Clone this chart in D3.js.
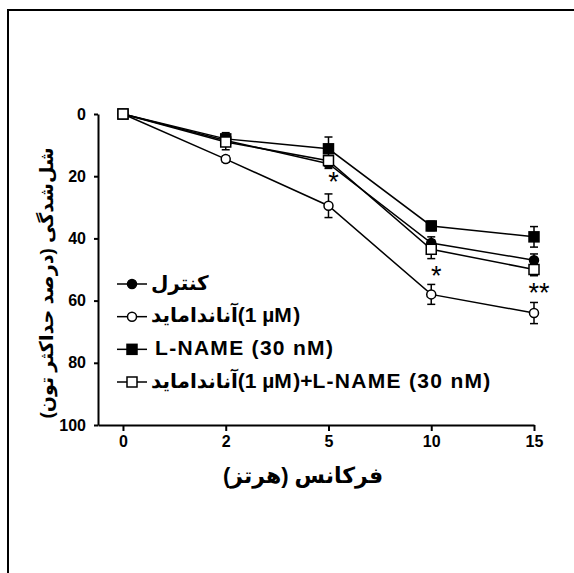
<!DOCTYPE html>
<html lang="fa">
<head>
<meta charset="utf-8">
<script src="https://d3js.org/d3.v7.min.js"></script>
<style>
  body { margin: 0; background: #fff; }
  svg { display: block; }
  text { font-family: "Liberation Sans", Arial, "DejaVu Sans", sans-serif; font-weight: bold; fill: #000; }
</style>
</head>
<body>
<div id="chart"></div>
<script>
// frequencies (Hz) and tick labels
var freqs = ["0", "2", "5", "10", "15"];
var yTicks = [0, 20, 40, 60, 80, 100];

// relaxation (% of max tone), mean and error
var control = [0, 8.5, 16, 41.5, 47];
var controlErr = [1, 1.5, 1.5, 2, 2];
var anandamide = [0, 14.5, 29.5, 58, 64];
var anandamideErr = [1, 1, 3.8, 3.2, 3.4];
var lname = [0, 8, 11.2, 36, 39.5];
var lnameErr = [1, 2, 3.8, 1.5, 3.3];
var both = [0, 9, 15, 43.5, 50];
var bothErr = [1, 2.5, 1.5, 3, 2];

// significance marks
var stars = [null, null, "*", "*", "**"];

// legend labels: persian part, then latin part
var legendFa = ["کنترل", "آناندامايد", "", "آناندامايد"];
var legendEn = ["", "(1 µM)", "L-NAME (30 nM)", "(1 µM)+L-NAME (30 nM)"];

var series = [
  {vals: control, err: controlErr, shape: "circle", fill: "#000"},
  {vals: anandamide, err: anandamideErr, shape: "circle", fill: "#fff"},
  {vals: lname, err: lnameErr, shape: "square", fill: "#000"},
  {vals: both, err: bothErr, shape: "square", fill: "#fff"}
];

var W = 574, H = 573;
var svg = d3.select("#chart").append("svg").attr("width", W).attr("height", H);

// outer frame (right/bottom edges fall outside the picture)
svg.append("rect").attr("x", 8).attr("y", 10).attr("width", 620).attr("height", 620)
  .attr("fill", "none").attr("stroke", "#000").attr("stroke-width", 2);

var x = d3.scaleLinear().domain([-0.243, 4]).range([98, 534]);
var y = d3.scaleLinear().domain([0, 100]).range([114, 425]);

// y axis
var yAxis = svg.append("g").attr("transform", "translate(98,0)")
  .call(d3.axisLeft(y).tickValues(yTicks).tickSize(4).tickSizeOuter(0).tickPadding(8));
yAxis.select(".domain").attr("stroke-width", 2);
yAxis.selectAll(".tick line").attr("stroke-width", 2);
yAxis.selectAll("text").style("font-size", "16px").attr("font-family", null);

// x axis
var xAxis = svg.append("g").attr("transform", "translate(0,425)")
  .call(d3.axisBottom(x).tickValues(d3.range(freqs.length))
    .tickFormat(function(i) { return freqs[i]; }).tickSize(6).tickSizeOuter(0).tickPadding(5));
xAxis.select(".domain").attr("stroke-width", 2);
xAxis.selectAll(".tick line").attr("stroke-width", 2);
xAxis.selectAll("text").style("font-size", "16px").attr("font-family", null);

// axis titles
svg.append("text").attr("x", 303).attr("y", 483).attr("text-anchor", "middle")
  .style("font-size", "22px").text("فرکانس (هرتز)");

svg.append("text").attr("transform", "translate(53,283) rotate(-90)")
  .attr("text-anchor", "middle").style("font-size", "19px")
  .text("شل‌شدگی (درصد حداکثر تون)");

var line = d3.line().x(function(d, i) { return x(i); }).y(function(d) { return y(d); });

function drawMarker(g, s, cx, cy) {
  if (s.shape === "circle") {
    g.append("circle").attr("cx", cx).attr("cy", cy).attr("r", 4.5)
      .attr("fill", s.fill).attr("stroke", "#000").attr("stroke-width", 1.5);
  } else {
    g.append("rect").attr("x", cx - 5).attr("y", cy - 5).attr("width", 10).attr("height", 10)
      .attr("fill", s.fill).attr("stroke", "#000").attr("stroke-width", 1.5);
  }
}

// lines, error bars, markers
series.forEach(function(s) {
  var g = svg.append("g");
  g.append("path").datum(s.vals).attr("d", line)
    .attr("fill", "none").attr("stroke", "#000").attr("stroke-width", 1.5);
  s.vals.forEach(function(v, i) {
    var cx = x(i), lo = y(v - s.err[i]), hi = y(v + s.err[i]);
    g.append("line").attr("x1", cx).attr("x2", cx).attr("y1", lo).attr("y2", hi)
      .attr("stroke", "#000").attr("stroke-width", 1.5);
    [lo, hi].forEach(function(yy) {
      g.append("line").attr("x1", cx - 4).attr("x2", cx + 4).attr("y1", yy).attr("y2", yy)
        .attr("stroke", "#000").attr("stroke-width", 1.5);
    });
  });
  s.vals.forEach(function(v, i) { drawMarker(g, s, x(i), y(v)); });
});

// stars under the combined series
stars.forEach(function(st, i) {
  if (!st) return;
  svg.append("text").attr("x", x(i) + 5).attr("y", y(both[i] + bothErr[i]) + 26)
    .attr("text-anchor", "middle").style("font-size", "27px").style("font-weight", "normal")
    .text(st);
});

// legend
var leg = svg.append("g");
var legY = d3.scaleLinear().domain([0, 3]).range([284, 382]);
series.forEach(function(s, i) {
  var ly = legY(i);
  leg.append("line").attr("x1", 117).attr("x2", 147).attr("y1", ly).attr("y2", ly)
    .attr("stroke", "#000").attr("stroke-width", 1.5);
  drawMarker(leg, s, 132, ly);
  var t = leg.append("text").attr("x", legendFa[i] ? 151 : 155).attr("y", ly).attr("dy", "0.35em")
    .attr("direction", "ltr");
  if (legendFa[i]) t.append("tspan").style("font-size", "20px").text(legendFa[i] + (legendEn[i] ? "\u200E" : ""));
  if (legendEn[i]) t.append("tspan").style("font-size", "21px").style("letter-spacing", "1.3px").text(legendEn[i]);
});
</script>
</body>
</html>
